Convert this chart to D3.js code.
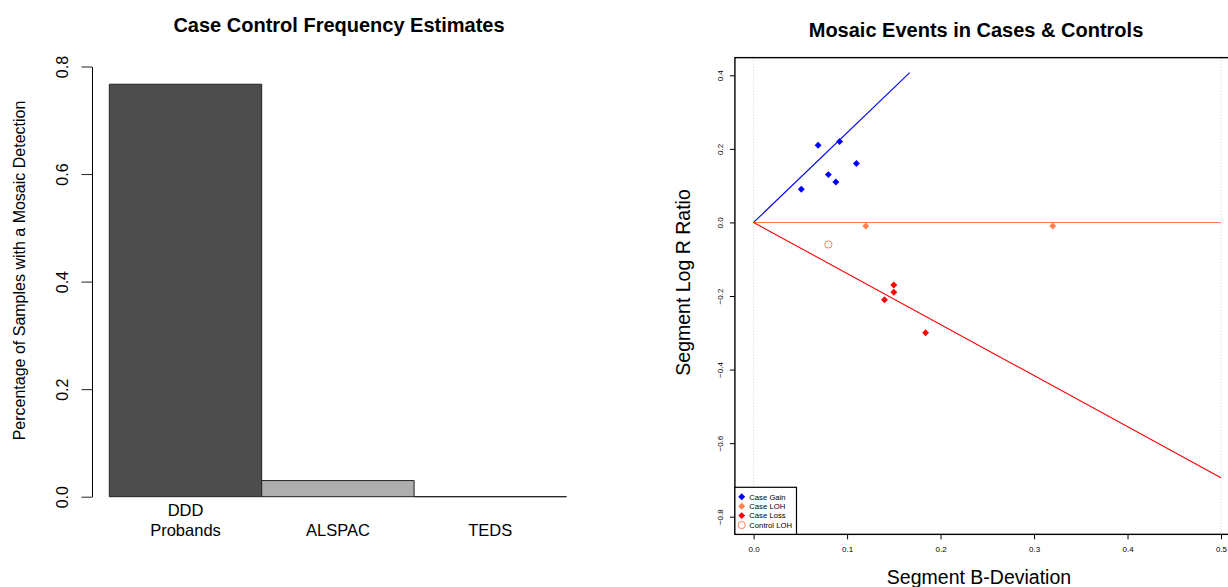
<!DOCTYPE html>
<html>
<head>
<meta charset="utf-8">
<script src="https://cdn.jsdelivr.net/npm/d3@7"></script>
<style>
  body { margin: 0; background: #fff; }
  svg { display: block; font-family: "Liberation Sans", Arial, sans-serif; }
</style>
</head>
<body>
<div id="app"></div>
<script>
// left panel data
var cohorts = [["DDD", "Probands"], ["ALSPAC"], ["TEDS"]];
var freq = [0.767, 0.03, 0];
var barFill = ["#4d4d4d", "#aeaeae", "#e6e6e6"];
var freqTicks = [0, 0.2, 0.4, 0.6, 0.8];

// right panel data (baf deviation, log r ratio)
var gainBaf = [0.051, 0.069, 0.092, 0.080, 0.088, 0.110];
var gainLrr = [0.09, 0.21, 0.22, 0.13, 0.11, 0.16];
var lohBaf = [0.12, 0.32];
var lohLrr = [-0.01, -0.01];
var lossBaf = [0.15, 0.15, 0.14, 0.184];
var lossLrr = [-0.17, -0.19, -0.21, -0.30];
var ctrlBaf = [0.08];
var ctrlLrr = [-0.06];
var gainLine = [[0, 0], [0.167, 0.407]];
var lohLine = [[0, 0], [0.5, 0]];
var lossLine = [[0, 0], [0.5, -0.694]];
var bafTicks = [0, 0.1, 0.2, 0.3, 0.4, 0.5];
var lrrTicks = [-0.8, -0.6, -0.4, -0.2, 0, 0.2, 0.4];
var legendLabels = ["Case Gain", "Case LOH", "Case Loss", "Control LOH"];

var width = 1228, height = 587;
var svg = d3.select("#app").append("svg")
  .attr("width", width)
  .attr("height", height);

// ---------- left: barplot ----------
var xb = d3.scaleLinear().domain([0, 3]).range([109.3, 566.5]);
var yb = d3.scaleLinear().domain([0, 0.8]).range([496.7, 66.5]);

var left = svg.append("g").attr("class", "bars");

left.append("text")
  .attr("x", 339).attr("y", 31.5)
  .attr("text-anchor", "middle")
  .style("font-weight", "bold").style("font-size", "20px")
  .text("Case Control Frequency Estimates");

// bars as paths so the zero-height bar still shows its outline
left.selectAll("path.bar")
  .data(freq)
  .enter()
  .append("path")
  .attr("class", "bar")
  .attr("d", function (d, i) {
    var x0 = xb(i), x1 = xb(i + 1), y0 = yb(0), y1 = yb(d);
    return "M" + x0 + "," + y0 + "V" + y1 + "H" + x1 + "V" + y0 + "Z";
  })
  .attr("fill", function (d, i) { return barFill[i]; })
  .attr("stroke", "#222")
  .attr("stroke-width", 1);

var yAxisL = left.append("g")
  .attr("transform", "translate(92,0)")
  .call(d3.axisLeft(yb).tickValues(freqTicks).tickSize(10.5).tickSizeOuter(0).tickFormat(d3.format(".1f")));
yAxisL.select(".domain").attr("stroke", "#000");
yAxisL.selectAll(".tick line").attr("stroke", "#222");
yAxisL.selectAll(".tick text")
  .attr("transform", "rotate(-90)")
  .attr("x", 0).attr("y", -24).attr("dy", 0)
  .attr("text-anchor", "middle")
  .attr("fill", "#000")
  .style("font-size", "16px");

left.append("text")
  .attr("transform", "translate(24.5,270.5) rotate(-90)")
  .attr("text-anchor", "middle")
  .style("font-size", "16px")
  .text("Percentage of Samples with a Mosaic Detection");

cohorts.forEach(function (lines, i) {
  var cx = xb(i + 0.5);
  lines.forEach(function (ln, j) {
    left.append("text")
      .attr("x", cx)
      .attr("y", 536 - (lines.length - 1 - j) * 20)
      .attr("text-anchor", "middle")
      .style("font-size", "16.5px")
      .text(ln);
  });
});

// ---------- right: scatter ----------
var xs = d3.scaleLinear().domain([0, 0.5]).range([753.6, 1221]);
var ys = d3.scaleLinear().domain([-0.8, 0.4]).range([516.7, 75.3]);
var boxL = xs(-0.02), boxR = xs(0.52), boxT = ys(0.448), boxB = ys(-0.848);

var right = svg.append("g").attr("class", "scatter");

right.append("text")
  .attr("x", 976).attr("y", 36.5)
  .attr("text-anchor", "middle")
  .style("font-weight", "bold").style("font-size", "20px")
  .text("Mosaic Events in Cases & Controls");

// dotted guides at 0 and 0.5
right.selectAll("line.vguide")
  .data([0, 0.5])
  .enter()
  .append("line")
  .attr("class", "vguide")
  .attr("x1", function (d) { return xs(d); })
  .attr("x2", function (d) { return xs(d); })
  .attr("y1", boxT).attr("y2", boxB)
  .attr("stroke", "#cfcfcf")
  .attr("stroke-dasharray", "1,2");

var line = d3.line()
  .x(function (d) { return xs(d[0]); })
  .y(function (d) { return ys(d[1]); });

[[gainLine, "#0000ff"], [lohLine, "#ff7f50"], [lossLine, "#ff0000"]].forEach(function (l) {
  right.append("path")
    .attr("d", line(l[0]))
    .attr("fill", "none")
    .attr("stroke", l[1])
    .attr("stroke-width", 1.1);
});

var diamond = d3.symbol().type(d3.symbolSquare).size(24);

function pts(bafs, lrrs, color) {
  right.selectAll(null)
    .data(bafs)
    .enter()
    .append("path")
    .attr("d", diamond)
    .attr("transform", function (d, i) {
      return "translate(" + xs(d) + "," + ys(lrrs[i]) + ") rotate(45)";
    })
    .attr("fill", color);
}
pts(gainBaf, gainLrr, "#0000ff");
pts(lohBaf, lohLrr, "#ff7f50");
pts(lossBaf, lossLrr, "#ff0000");

right.selectAll("circle.ctrl")
  .data(ctrlBaf)
  .enter()
  .append("circle")
  .attr("class", "ctrl")
  .attr("cx", function (d) { return xs(d); })
  .attr("cy", function (d, i) { return ys(ctrlLrr[i]); })
  .attr("r", 3.6)
  .attr("fill", "none")
  .attr("stroke", "#ff7f50")
  .attr("stroke-width", 1);

// axes
var xAxisR = right.append("g")
  .attr("transform", "translate(0," + boxB + ")")
  .call(d3.axisBottom(xs).tickValues(bafTicks).tickSize(5).tickSizeOuter(0).tickFormat(d3.format(".1f")));
xAxisR.select(".domain").remove();
xAxisR.selectAll(".tick line").attr("stroke", "#000");
xAxisR.selectAll(".tick text")
  .attr("y", 17.5).attr("dy", 0)
  .attr("fill", "#000")
  .style("font-size", "8px");

var yAxisR = right.append("g")
  .attr("transform", "translate(" + boxL + ",0)")
  .call(d3.axisLeft(ys).tickValues(lrrTicks).tickSize(5).tickSizeOuter(0).tickFormat(function (d) {
    return d3.format(".1f")(d).replace("-", "\u2212");
  }));
yAxisR.select(".domain").remove();
yAxisR.selectAll(".tick line").attr("stroke", "#000");
yAxisR.selectAll(".tick text")
  .attr("transform", "rotate(-90)")
  .attr("x", 0).attr("y", -11.5).attr("dy", 0)
  .attr("text-anchor", "middle")
  .attr("fill", "#000")
  .style("font-size", "8px");

// box (right side falls outside the page)
right.append("rect")
  .attr("x", boxL).attr("y", boxT)
  .attr("width", boxR - boxL).attr("height", boxB - boxT)
  .attr("fill", "none")
  .attr("stroke", "#000")
  .attr("stroke-width", 1.4);

right.append("text")
  .attr("transform", "translate(690,282.5) rotate(-90)")
  .attr("text-anchor", "middle")
  .style("font-size", "19.5px")
  .text("Segment Log R Ratio");

right.append("text")
  .attr("x", 979).attr("y", 584)
  .attr("text-anchor", "middle")
  .style("font-size", "19.5px")
  .text("Segment B-Deviation");

// legend
var legendColor = ["#0000ff", "#ff7f50", "#ff0000", "#ff7f50"];
var leg = right.append("g").attr("class", "legend");
leg.append("rect")
  .attr("x", boxL).attr("y", 487.3)
  .attr("width", 796.5 - boxL).attr("height", boxB - 487.3)
  .attr("fill", "#fff")
  .attr("stroke", "#000")
  .attr("stroke-width", 1.2);

legendLabels.forEach(function (lab, i) {
  var cy = 496.8 + i * 9.4;
  if (i < 3) {
    leg.append("path")
      .attr("d", diamond)
      .attr("transform", "translate(741.7," + cy + ") rotate(45)")
      .attr("fill", legendColor[i]);
  } else {
    leg.append("circle")
      .attr("cx", 741.7).attr("cy", cy).attr("r", 3.6)
      .attr("fill", "none").attr("stroke", legendColor[i]);
  }
  leg.append("text")
    .attr("x", 749.3).attr("y", cy + 2.8)
    .style("font-size", "7.7px")
    .text(lab);
});
</script>
</body>
</html>
